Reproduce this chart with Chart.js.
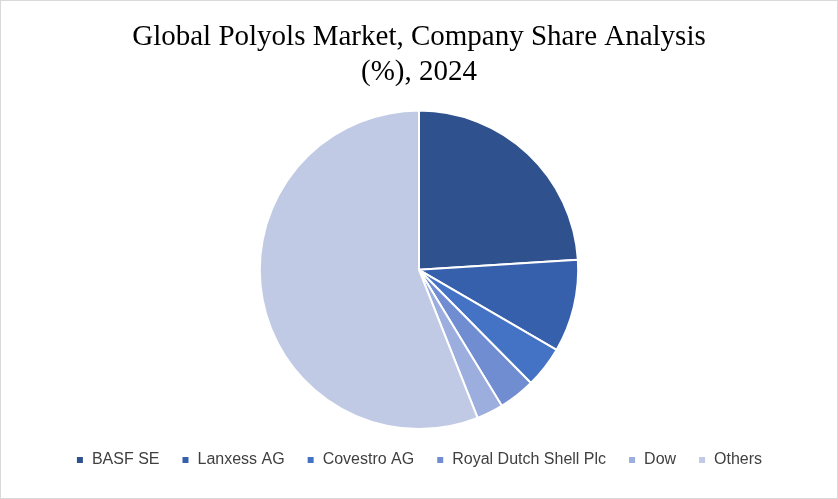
<!DOCTYPE html>
<html>
<head>
<script src="https://cdn.jsdelivr.net/npm/chart.js"></script>
<style>
body { margin: 0; background: #fff; }
#wrap { width: 836px; height: 497px; border: 1px solid #d9d9d9; position: relative; }
</style>
</head>
<body>
<div id="wrap"><canvas id="c" width="836" height="497"></canvas></div>
<script>
var companies = ['BASF SE', 'Lanxess AG', 'Covestro AG', 'Royal Dutch Shell Plc', 'Dow', 'Others'];
var shares = [24.0, 9.4, 4.2, 3.7, 2.7, 56.0];
var colors = ['#2F528F', '#3760AC', '#4472C4', '#6F8DD0', '#9CAEDE', '#C0CAE5'];

new Chart(document.getElementById('c'), {
    type: 'pie',
    data: {
        labels: companies,
        datasets: [{
            data: shares,
            backgroundColor: colors,
            borderColor: '#fff',
            borderWidth: 2
        }]
    },
    options: {
        responsive: false,
        animation: false,
        layout: { padding: { top: 0, bottom: 20 } },
        plugins: {
            title: {
                display: true,
                text: ['Global Polyols Market, Company Share Analysis', '(%), 2024'],
                font: { family: 'Liberation Serif', size: 29, weight: 'normal' },
                color: '#000',
                padding: { top: 19, bottom: 20 },
                lineHeight: 1.1
            },
            legend: {
                position: 'bottom',
                labels: {
                    boxWidth: 8, boxHeight: 8,
                    font: { family: 'Liberation Sans Narrow, Liberation Sans', size: 16 },
                    color: '#404040',
                    padding: 22
                }
            },
            tooltip: { enabled: false }
        }
    }
});
</script>
</body>
</html>
